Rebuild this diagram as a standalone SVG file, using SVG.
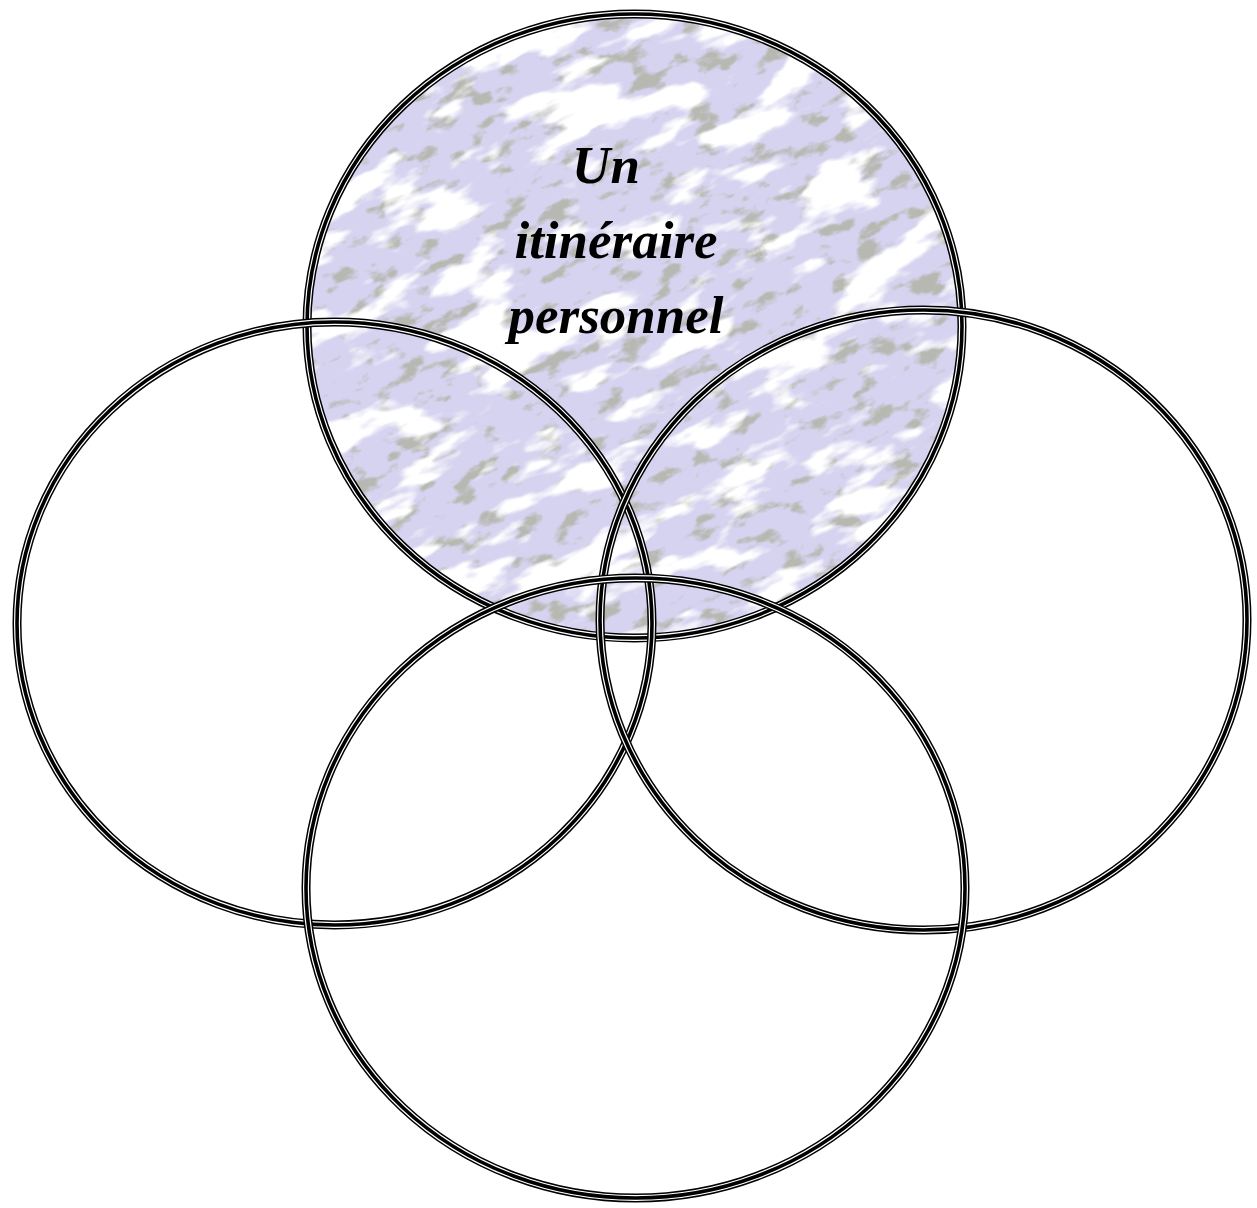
<svg xmlns="http://www.w3.org/2000/svg" width="1257" height="1208" viewBox="0 0 1257 1208">
<style>
.o{fill:none;stroke:#000;stroke-width:9}
.g{fill:none;stroke:#fff;stroke-width:6}
.t{fill:none;stroke:#000;stroke-width:3.6}
.lbl{font-family:"Liberation Serif","DejaVu Serif",serif;font-style:italic;font-weight:bold;font-size:53px;fill:#000;text-anchor:middle}
</style>
<defs>
<clipPath id="clipTop"><ellipse cx="634.5" cy="326" rx="327.5" ry="312"/></clipPath>
<filter id="marble" x="0" y="0" width="100%" height="100%" filterUnits="objectBoundingBox" color-interpolation-filters="sRGB">
<feFlood flood-color="#d5d3ef" result="base"/>
<feTurbulence type="fractalNoise" baseFrequency="0.011 0.028" numOctaves="4" seed="7" result="n1"/>
<feColorMatrix in="n1" type="matrix" values="0 0 0 0 1  0 0 0 0 1  0 0 0 0 1  1 0 0 0 0" result="w0"/>
<feComponentTransfer in="w0" result="w"><feFuncA type="linear" slope="10" intercept="-5.2"/></feComponentTransfer>
<feTurbulence type="fractalNoise" baseFrequency="0.03 0.06" numOctaves="4" seed="19" result="n2"/>
<feColorMatrix in="n2" type="matrix" values="0 0 0 0 0.72  0 0 0 0 0.72  0 0 0 0 0.70  1 0 0 0 0" result="g0"/>
<feComponentTransfer in="g0" result="gr"><feFuncA type="linear" slope="7" intercept="-3.9"/></feComponentTransfer>
<feMerge><feMergeNode in="base"/><feMergeNode in="gr"/><feMergeNode in="w"/></feMerge>
</filter>
</defs>
<rect width="1257" height="1208" fill="#fff"/>
<g id="fill-top" clip-path="url(#clipTop)">
<g transform="rotate(-25 634.5 326)">
<rect x="150" y="-160" width="970" height="970" fill="#d5d3ef" filter="url(#marble)"/>
</g>
</g>
<g id="node-top">
<ellipse class="o" cx="634.5" cy="326" rx="327.5" ry="312"/>
<ellipse class="g" cx="634.5" cy="326" rx="327.5" ry="312"/>
<ellipse class="t" cx="634.5" cy="326" rx="327.5" ry="312"/>
<text class="lbl" x="606" y="183">Un</text>
<text class="lbl" x="616" y="258">itinéraire</text>
<text class="lbl" x="616" y="333">personnel</text>
</g>
<g id="node-left">
<ellipse class="o" cx="334.5" cy="623.5" rx="317.5" ry="301.5"/>
<ellipse class="g" cx="334.5" cy="623.5" rx="317.5" ry="301.5"/>
<ellipse class="t" cx="334.5" cy="623.5" rx="317.5" ry="301.5"/>
</g>
<g id="node-right">
<ellipse class="o" cx="923.5" cy="620" rx="323.5" ry="310"/>
<ellipse class="g" cx="923.5" cy="620" rx="323.5" ry="310"/>
<ellipse class="t" cx="923.5" cy="620" rx="323.5" ry="310"/>
</g>
<g id="node-bottom">
<ellipse class="o" cx="635.5" cy="888" rx="329.5" ry="310"/>
<ellipse class="g" cx="635.5" cy="888" rx="329.5" ry="310"/>
<ellipse class="t" cx="635.5" cy="888" rx="329.5" ry="310"/>
</g>
</svg>
